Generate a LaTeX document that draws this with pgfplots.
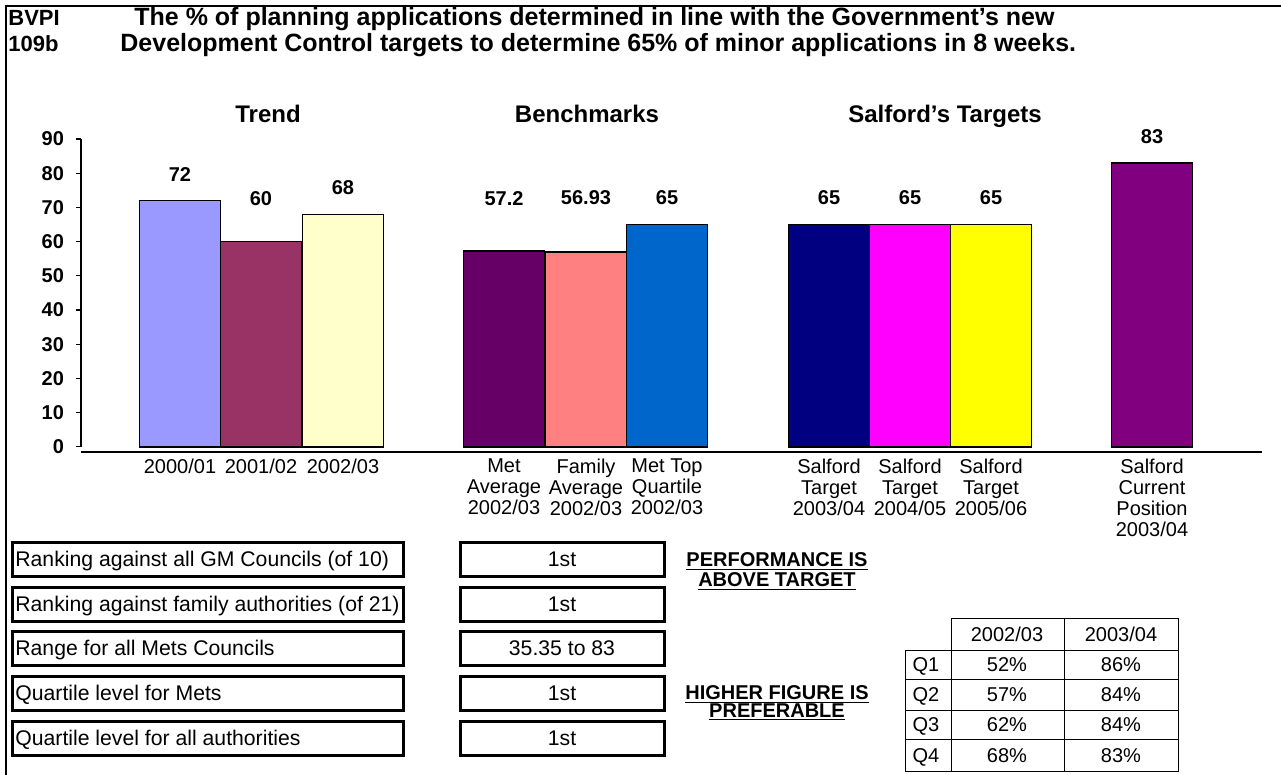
\documentclass[border=0pt]{standalone}
\usepackage{fontspec}
\setmainfont{Liberation Sans}
\usepackage{pgfplots}
\pgfplotsset{compat=1.18}

\definecolor{trendA}{HTML}{9999FF}
\definecolor{trendB}{HTML}{993366}
\definecolor{trendC}{HTML}{FFFFCC}
\definecolor{benchA}{HTML}{660066}
\definecolor{benchB}{HTML}{FF8080}
\definecolor{benchC}{HTML}{0066CC}
\definecolor{targA}{HTML}{000080}
\definecolor{targB}{HTML}{FF00FF}
\definecolor{targC}{HTML}{FFFF00}
\definecolor{current}{HTML}{800080}

\newcommand{\bodyfont}{\fontsize{10}{10.5}\selectfont}
\newcommand{\boxfont}{\fontsize{10.6}{11}\selectfont}
\newcommand{\titlefont}{\fontsize{12.5}{13}\selectfont\bfseries}
\newcommand{\codefont}{\fontsize{11}{12}\selectfont\bfseries}
\newcommand{\headfont}{\fontsize{12}{13}\selectfont\bfseries}

\pgfplotsset{
  cbar/.style={ybar, bar width=81, bar shift=0pt, draw=black, line width=0.75pt,
    nodes near coords,
    every node near coord/.append style={font=\bodyfont\bfseries, yshift=#1}},
}

\begin{document}
\begin{tikzpicture}
\useasboundingbox (0,0) rectangle (640.5pt,-387.5pt);

\begin{axis}[
  at={(40.5pt,-226pt)}, anchor=south west,
  x=0.5pt, y=1.71pt,
  xmin=81, xmax=1262, ymin=-1.5, ymax=90,
  clip=false,
  axis x line*=bottom, axis y line*=left,
  y axis line style={draw=none},
  x axis line style={line width=0.6pt},
  xtick={180,261,343,504,586,667,829,910,991,1152},
  xticklabels={2000/01, 2001/02, 2002/03,
    {Met\\Average\\2002/03}, {Family\\Average\\2002/03}, {Met Top\\Quartile\\2002/03},
    {Salford\\Target\\2003/04}, {Salford\\Target\\2004/05}, {Salford\\Target\\2005/06},
    {Salford\\Current\\Position\\2003/04}},
  xticklabel style={align=center, font=\bodyfont, yshift=2.5pt},
  xtick style={draw=none},
  ytick={0,10,...,90},
  tick align=outside,
  major tick length=2.5pt,
  ytick style={black, line width=0.6pt},
  yticklabel style={font=\bodyfont\bfseries, xshift=-2.5pt},
  /pgf/number format/assume math mode=true,
]
\draw[line width=0.6pt] (axis cs:81,0) -- (axis cs:81,90);

\addplot[cbar=6.1pt, fill=trendA] coordinates {(180,72)};
\addplot[cbar=14.5pt, fill=trendB] coordinates {(261,60)};
\addplot[cbar=6.3pt, fill=trendC] coordinates {(343,68)};
\addplot[cbar=19.3pt, fill=benchA] coordinates {(504,57.2)};
\addplot[cbar=19.8pt, fill=benchB] coordinates {(586,56.93)};
\addplot[cbar=6pt, fill=benchC] coordinates {(667,65)};
\addplot[cbar=6pt, fill=targA] coordinates {(829,65)};
\addplot[cbar=6pt, fill=targB] coordinates {(910,65)};
\addplot[cbar=6pt, fill=targC] coordinates {(991,65)};
\addplot[cbar=6.1pt, fill=current] coordinates {(1152,83)};
\end{axis}

\begin{scope}[x=0.5pt, y=-0.5pt]
  % frame
  \draw[line width=1.1pt] (6,775) -- (6,6) -- (1281,6);
  % title
  \node[anchor=base west, inner sep=0, font=\codefont] at (8,25.5) {BVPI};
  \node[anchor=base west, inner sep=0, font=\codefont] at (8,51.5) {109b};
  \node[anchor=base west, inner sep=0, font=\titlefont] at (134,25.5)
    {The \% of planning applications determined in line with the Government's new};
  \node[anchor=base west, inner sep=0, font=\titlefont] at (120,51.5)
    {Development Control targets to determine 65\% of minor applications in 8 weeks.};
  % group headings
  \node[anchor=base, inner sep=0, font=\headfont] at (268,123) {Trend};
  \node[anchor=base, inner sep=0, font=\headfont] at (587,123) {Benchmarks};
  \node[anchor=base, inner sep=0, font=\headfont] at (945,123) {Salford's Targets};

  % information boxes
  \foreach \yc/\lab/\val in {559/Ranking against all GM Councils (of 10)/1st,
      604/Ranking against family authorities (of 21)/1st,
      648/Range for all Mets Councils/35.35 to 83,
      693/Quartile level for Mets/1st,
      738/Quartile level for all authorities/1st} {
    \draw[line width=1.5pt] (12,\yc-17) rectangle (403,\yc+17);
    \draw[line width=1.5pt] (460,\yc-17) rectangle (664,\yc+17);
    \node[anchor=base west, inner sep=0, font=\boxfont] at (15,\yc+7) {\lab};
    \node[anchor=base, inner sep=0, font=\boxfont] at (562,\yc+7) {\val};
  }
  \node[anchor=base, inner sep=0, font=\bodyfont\bfseries] at (777,566) {\underline{PERFORMANCE IS}};
  \node[anchor=base, inner sep=0, font=\bodyfont\bfseries] at (777,586) {\underline{ABOVE TARGET}};
  \node[anchor=base, inner sep=0, font=\bodyfont\bfseries] at (777,699) {\underline{HIGHER FIGURE IS}};
  \node[anchor=base, inner sep=0, font=\bodyfont\bfseries] at (777,717) {\underline{PREFERABLE}};

  % quartile table
  \draw[line width=0.5pt] (951,618) rectangle (1178,650);
  \draw[line width=0.5pt] (1064,618) -- (1064,771);
  \draw[line width=0.5pt] (905,650) rectangle (1178,771);
  \draw[line width=0.5pt] (951,650) -- (951,771);
  \foreach \yy in {679,710,739} \draw[line width=0.5pt] (905,\yy) -- (1178,\yy);
  \node[anchor=base, inner sep=0, font=\bodyfont] at (1007,641) {2002/03};
  \node[anchor=base, inner sep=0, font=\bodyfont] at (1121,641) {2003/04};
  \foreach \yc/\q/\a/\b in {664.5/Q1/52\%/86\%, 694.5/Q2/57\%/84\%,
      724.5/Q3/62\%/84\%, 755/Q4/68\%/83\%} {
    \node[anchor=base, inner sep=0, font=\bodyfont] at (926,\yc+7) {\q};
    \node[anchor=base, inner sep=0, font=\bodyfont] at (1007,\yc+7) {\a};
    \node[anchor=base, inner sep=0, font=\bodyfont] at (1121,\yc+7) {\b};
  }
\end{scope}
\end{tikzpicture}
\end{document}
